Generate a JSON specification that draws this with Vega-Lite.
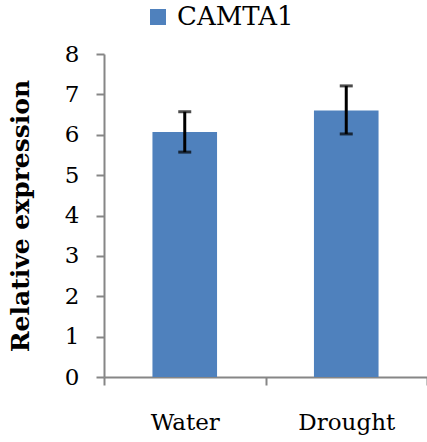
{
  "$schema": "https://vega.github.io/schema/vega-lite/v6.json",
  "autosize": {"type": "none"},
  "width": 323,
  "height": 323,
  "padding": {"left": 104, "top": 54, "right": 0, "bottom": 65},
  "config": {
    "view": {"stroke": null},
    "font": "DejaVu Serif",
    "axis": {"labelFont": "DejaVu Serif", "titleFont": "DejaVu Serif", "labelColor": "#000", "titleColor": "#000"},
    "legend": {"labelFont": "DejaVu Serif", "labelColor": "#000"}
  },
  "data": {
    "values": [
      {"condition": "Water", "gene": "CAMTA1", "mean": 6.07, "low": 5.57, "high": 6.57},
      {"condition": "Drought", "gene": "CAMTA1", "mean": 6.6, "low": 6.02, "high": 7.21}
    ]
  },
  "encoding": {
    "x": {
      "field": "condition",
      "type": "nominal",
      "sort": ["Water", "Drought"],
      "scale": {"paddingInner": 0, "paddingOuter": 0},
      "axis": {
        "title": null,
        "labelAngle": 0,
        "labelFontSize": 23,
        "labelPadding": 26,
        "tickBand": "extent",
        "tickSize": 8,
        "tickColor": "#868686",
        "tickWidth": 2,
        "domainColor": "#868686",
        "domainWidth": 2
      }
    }
  },
  "layer": [
    {
      "mark": {"type": "bar", "width": {"band": 0.4}},
      "encoding": {
        "y": {
          "field": "mean",
          "type": "quantitative",
          "scale": {"domain": [0, 8], "nice": false},
          "axis": {
            "title": "Relative expression",
            "titleFontSize": 25,
            "titleFontWeight": "bold",
            "titlePadding": 31,
            "values": [0, 1, 2, 3, 4, 5, 6, 7, 8],
            "grid": false,
            "labelFontSize": 23,
            "labelPadding": 17,
            "tickSize": 8,
            "tickColor": "#868686",
            "tickWidth": 2,
            "domainColor": "#868686",
            "domainWidth": 2
          }
        },
        "color": {
          "field": "gene",
          "type": "nominal",
          "scale": {"range": ["#4F81BD"]},
          "legend": {
            "title": null,
            "orient": "none",
            "legendX": 41,
            "legendY": -50,
            "symbolType": "square",
            "symbolSize": 256,
            "symbolStrokeWidth": 0,
            "symbolOpacity": 1,
            "labelFontSize": 26,
            "labelOffset": 6
          }
        }
      }
    },
    {
      "mark": {"type": "rule", "color": "black", "strokeWidth": 3},
      "encoding": {
        "y": {"field": "low", "type": "quantitative"},
        "y2": {"field": "high"}
      }
    },
    {
      "mark": {"type": "tick", "color": "black", "thickness": 3, "size": 13, "orient": "horizontal"},
      "encoding": {
        "y": {"field": "low", "type": "quantitative"}
      }
    },
    {
      "mark": {"type": "tick", "color": "black", "thickness": 3, "size": 13, "orient": "horizontal"},
      "encoding": {
        "y": {"field": "high", "type": "quantitative"}
      }
    }
  ]
}
